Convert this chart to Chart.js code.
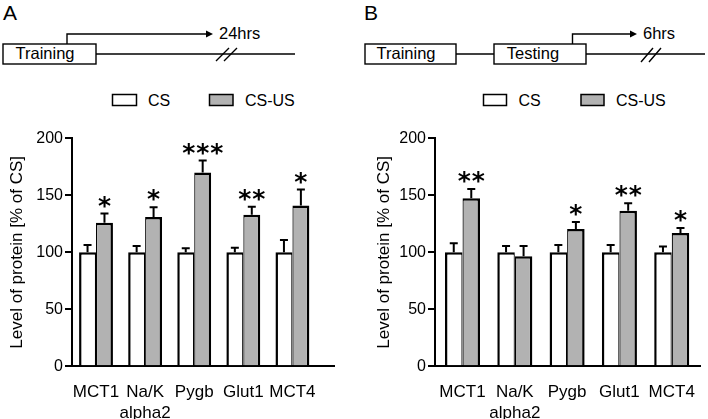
<!DOCTYPE html>
<html>
<head>
<meta charset="utf-8">
<script src="https://cdn.jsdelivr.net/npm/chart.js@4"></script>
<style>
  body { margin: 0; width: 708px; height: 419px; position: relative; background: #fff; overflow: hidden; }
  canvas { position: absolute; top: 112px; }
  svg { position: absolute; left: 0; top: 0; }
  svg text { font-family: "Liberation Sans", Arial, sans-serif; fill: #000; }
</style>
</head>
<body>
<svg width="708" height="112" viewBox="0 0 708 112">
  <!-- схемы эксперимента -->
  <g stroke="#000" stroke-width="1.4" fill="none">
    <rect x="3" y="44" width="93" height="20" fill="#fff"/>
    <path d="M96 54H295"/>
    <path d="M67 44V34H208"/>
    <path d="M216 61L229 48M224 61L237 48"/>
    <rect x="365" y="44" width="91" height="20" fill="#fff"/>
    <path d="M456 54H494"/>
    <rect x="494" y="44" width="92" height="20" fill="#fff"/>
    <path d="M586 54H705"/>
    <path d="M572.5 44V34H632"/>
    <path d="M641 62L653 48M649 62L661 48"/>
  </g>
  <path d="M213 34l-7 -3.5v7z" fill="#000"/>
  <path d="M637 34l-7 -3.5v7z" fill="#000"/>
  <text x="3" y="20" font-size="21">A</text>
  <text x="45" y="58.5" font-size="16.5" text-anchor="middle">Training</text>
  <text x="219" y="38.5" font-size="16.5">24hrs</text>
  <text x="364" y="20" font-size="21">B</text>
  <text x="406" y="58.5" font-size="16.5" text-anchor="middle">Training</text>
  <text x="533" y="58.5" font-size="16.5" text-anchor="middle">Testing</text>
  <text x="643" y="38.5" font-size="16.5">6hrs</text>
  <!-- легенды -->
  <g stroke="#000" stroke-width="1.5">
    <rect x="112.5" y="94.5" width="24" height="11" fill="#fff"/>
    <rect x="209.5" y="94.5" width="23.5" height="11" fill="#b2b2b2"/>
    <rect x="483.5" y="94.5" width="23" height="11" fill="#fff"/>
    <rect x="581" y="94.5" width="23" height="11" fill="#b2b2b2"/>
  </g>
  <text x="148" y="106" font-size="16">CS</text>
  <text x="245" y="106" font-size="16">CS-US</text>
  <text x="518.5" y="106" font-size="16">CS</text>
  <text x="616" y="106" font-size="16">CS-US</text>
</svg>
<canvas id="chartA" width="354" height="307" style="left:0"></canvas>
<canvas id="chartB" width="354" height="307" style="left:354px"></canvas>
<script>
// Белки по оси X
const proteins = ["MCT1", "Na/K\nalpha2", "Pygb", "Glut1", "MCT4"];
const yTicks = [0, 50, 100, 150, 200];

// A: 24 часа после обучения
const csA = [100, 100, 100, 100, 100];
const csErrA = [6.4, 5.5, 3.5, 4, 10.8];
const csusA = [126, 131, 170, 133, 141];
const csusErrA = [8, 8.5, 10.5, 7, 14];
const starsA = ["*", "*", "***", "**", "*"];

// B: 6 часов после тестирования
const csB = [100, 100, 100, 100, 100];
const csErrB = [8, 5.5, 6.4, 6.4, 5];
const csusB = [147.5, 96.5, 120.5, 136.5, 117];
const csusErrB = [8, 9, 6, 6.5, 4.3];
const starsB = ["**", "", "*", "**", "*"];

const csColor = "#ffffff";
const csusColor = "#b2b2b2";

Chart.defaults.font.family = "'Liberation Sans', Arial, sans-serif";
Chart.defaults.color = "#000";

// планки ошибок и звездочки
const errorBars = {
    id: "errorBars",
    afterDatasetsDraw(chart) {
        const ctx = chart.ctx;
        const yScale = chart.scales.y;
        ctx.save();
        ctx.strokeStyle = "#000";
        ctx.fillStyle = "#000";
        ctx.lineWidth = 2;
        chart.data.datasets.forEach((ds, d) => {
            const meta = chart.getDatasetMeta(d);
            meta.data.forEach((bar, i) => {
                const top = yScale.getPixelForValue(ds.data[i].y + ds.errors[i]);
                ctx.beginPath();
                ctx.moveTo(bar.x, bar.y);
                ctx.lineTo(bar.x, top);
                ctx.moveTo(bar.x - 4, top);
                ctx.lineTo(bar.x + 4, top);
                ctx.stroke();

                const stars = ds.stars ? ds.stars[i] : "";
                if (!stars) return;
                ctx.font = "bold 25px 'DejaVu Sans'";
                ctx.textAlign = "center";
                ctx.textBaseline = "alphabetic";
                const m = ctx.measureText("*");
                const cy = top - 12;
                const base = cy + (m.actualBoundingBoxAscent - m.actualBoundingBoxDescent) / 2;
                for (let k = 0; k < stars.length; k++) {
                    ctx.fillText("*", bar.x + (k - (stars.length - 1) / 2) * 14, base);
                }
            });
        });
        ctx.restore();
    },
};

function toPoints(values) {
    return values.map((v, i) => ({ x: i, y: v }));
}

function createChart(canvas, cs, csErr, csus, csusErr, stars, box) {
    new Chart(canvas, {
        type: "bar",
        data: {
            datasets: [
                {
                    label: "CS",
                    data: toPoints(cs),
                    errors: csErr,
                    backgroundColor: csColor,
                    borderColor: "#000",
                    borderWidth: { top: 2.5, left: 2.5, right: 1.2, bottom: 0 },
                },
                {
                    label: "CS-US",
                    data: toPoints(csus),
                    errors: csusErr,
                    stars: stars,
                    backgroundColor: csusColor,
                    borderColor: "#000",
                    borderWidth: { top: 2.5, left: 1.2, right: 2.5, bottom: 0 },
                },
            ],
        },
        options: {
            responsive: false,
            animation: false,
            layout: { padding: { left: box.padLeft, right: box.padRight, top: 26.3, bottom: 0 } },
            datasets: { bar: { categoryPercentage: box.group, barPercentage: 1 } },
            plugins: { legend: { display: false }, tooltip: { enabled: false } },
            scales: {
                x: {
                    type: "linear",
                    min: box.xMin,
                    max: box.xMax,
                    offset: false,
                    grid: { display: false },
                    border: { display: true, color: "#000", width: 2 },
                    afterBuildTicks: (axis) => {
                        axis.ticks = proteins.map((p, i) => ({ value: i }));
                    },
                    afterFit: (axis) => {
                        axis.height = 52.7;
                    },
                    ticks: {
                        padding: 8,
                        autoSkip: false,
                        maxRotation: 0,
                        font: { size: 17 },
                        callback: (v) => proteins[v].split("\n"),
                    },
                },
                y: {
                    min: 0,
                    max: 200,
                    afterBuildTicks: (axis) => {
                        axis.ticks = yTicks.map((v) => ({ value: v }));
                    },
                    afterFit: (axis) => {
                        axis.width = box.yWidth;
                    },
                    grid: { display: true, drawOnChartArea: false, drawTicks: true, tickLength: 7, color: "#000", lineWidth: 2 },
                    border: { display: true, color: "#000", width: 2 },
                    ticks: { padding: 2, font: { size: 16 } },
                    title: {
                        display: true,
                        text: "Level of protein [% of CS]",
                        font: { size: 17 },
                        padding: { top: 7, bottom: 0 },
                    },
                },
            },
        },
        plugins: [errorBars],
    });
}

createChart(document.getElementById("chartA"), csA, csErrA, csusA, csusErrA, starsA,
    { padLeft: 0, padRight: 20, yWidth: 72, xMin: -0.489, xMax: 4.847, group: 0.69 });
createChart(document.getElementById("chartB"), csB, csErrB, csusB, csusErrB, starsB,
    { padLeft: 12.8, padRight: 7.3, yWidth: 68.2, xMin: -0.526, xMax: 4.554, group: 0.67 });
</script>
</body>
</html>
